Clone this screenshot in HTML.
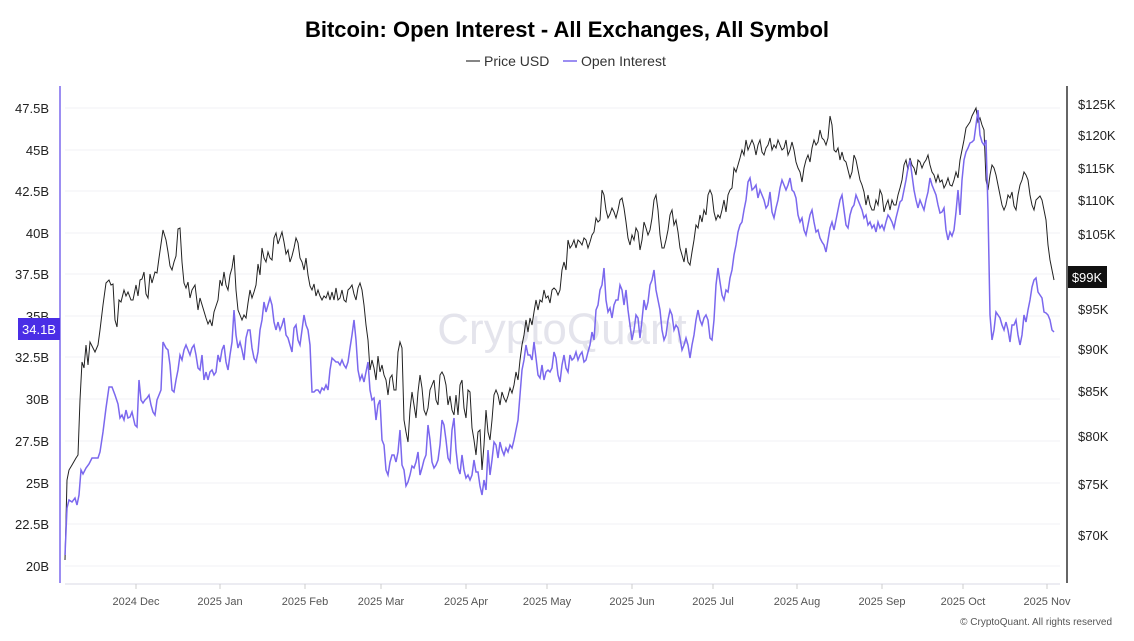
<!DOCTYPE html>
<html><head><meta charset="utf-8"><style>
body{margin:0;background:#fff;width:1134px;height:636px;overflow:hidden;font-family:"Liberation Sans",sans-serif}
</style></head><body>
<svg width="1134" height="636" viewBox="0 0 1134 636" xmlns="http://www.w3.org/2000/svg" font-family="Liberation Sans, sans-serif">
<text x="567" y="37" text-anchor="middle" font-size="22" font-weight="bold" fill="#000">Bitcoin: Open Interest - All Exchanges, All Symbol</text>
<line x1="466" y1="61" x2="480" y2="61" stroke="#333" stroke-width="1.2"/>
<text x="484" y="66" font-size="14" fill="#333">Price USD</text>
<line x1="563" y1="61" x2="577" y2="61" stroke="#7b68ee" stroke-width="1.5"/>
<text x="581" y="66" font-size="14" fill="#333">Open Interest</text>
<g stroke="#f2f2f4" stroke-width="1">
<line x1="65" x2="1060" y1="108" y2="108"/><line x1="65" x2="1060" y1="150" y2="150"/><line x1="65" x2="1060" y1="191" y2="191"/><line x1="65" x2="1060" y1="233" y2="233"/><line x1="65" x2="1060" y1="274" y2="274"/><line x1="65" x2="1060" y1="316" y2="316"/><line x1="65" x2="1060" y1="357" y2="357"/><line x1="65" x2="1060" y1="399" y2="399"/><line x1="65" x2="1060" y1="441" y2="441"/><line x1="65" x2="1060" y1="483" y2="483"/><line x1="65" x2="1060" y1="524" y2="524"/><line x1="65" x2="1060" y1="566" y2="566"/>
</g>
<line x1="60" y1="86" x2="60" y2="583" stroke="#7b68ee" stroke-width="1.5"/>
<line x1="1067" y1="86" x2="1067" y2="583" stroke="#000" stroke-width="1.2"/>
<line x1="65" y1="584" x2="1060" y2="584" stroke="#e6e6ee" stroke-width="1.5"/>
<g font-size="13" fill="#222" text-anchor="end">
<text x="49" y="113">47.5B</text><text x="49" y="155">45B</text><text x="49" y="196">42.5B</text><text x="49" y="238">40B</text><text x="49" y="279">37.5B</text><text x="49" y="321">35B</text><text x="49" y="362">32.5B</text><text x="49" y="404">30B</text><text x="49" y="446">27.5B</text><text x="49" y="488">25B</text><text x="49" y="529">22.5B</text><text x="49" y="571">20B</text>
</g>
<rect x="18" y="318" width="42" height="22" fill="#4a2ee6"/>
<text x="39" y="334" font-size="13" fill="#fff" text-anchor="middle">34.1B</text>
<g font-size="13" fill="#222">
<text x="1078" y="109">$125K</text><text x="1078" y="140">$120K</text><text x="1078" y="173">$115K</text><text x="1078" y="205">$110K</text><text x="1078" y="239">$105K</text><text x="1078" y="314">$95K</text><text x="1078" y="354">$90K</text><text x="1078" y="396">$85K</text><text x="1078" y="441">$80K</text><text x="1078" y="489">$75K</text><text x="1078" y="540">$70K</text>
</g>
<rect x="1068" y="266" width="39" height="22" fill="#111"/>
<text x="1087" y="282" font-size="13" fill="#fff" text-anchor="middle">$99K</text>
<g font-size="11" fill="#555" text-anchor="middle">
<text x="136" y="605">2024 Dec</text><text x="220" y="605">2025 Jan</text><text x="305" y="605">2025 Feb</text><text x="381" y="605">2025 Mar</text><text x="466" y="605">2025 Apr</text><text x="547" y="605">2025 May</text><text x="632" y="605">2025 Jun</text><text x="713" y="605">2025 Jul</text><text x="797" y="605">2025 Aug</text><text x="882" y="605">2025 Sep</text><text x="963" y="605">2025 Oct</text><text x="1047" y="605">2025 Nov</text>
</g>
<g stroke="#ccc" stroke-width="1"><line x1="136" y1="584" x2="136" y2="589"/><line x1="220" y1="584" x2="220" y2="589"/><line x1="305" y1="584" x2="305" y2="589"/><line x1="381" y1="584" x2="381" y2="589"/><line x1="466" y1="584" x2="466" y2="589"/><line x1="547" y1="584" x2="547" y2="589"/><line x1="632" y1="584" x2="632" y2="589"/><line x1="713" y1="584" x2="713" y2="589"/><line x1="797" y1="584" x2="797" y2="589"/><line x1="882" y1="584" x2="882" y2="589"/><line x1="963" y1="584" x2="963" y2="589"/><line x1="1047" y1="584" x2="1047" y2="589"/></g>
<text x="562" y="344" font-size="44" fill="#e4e4ec" text-anchor="middle">CryptoQuant</text>
<text x="1112" y="625" font-size="10" fill="#555" text-anchor="end">© CryptoQuant. All rights reserved</text>
<polyline fill="none" stroke="#222" stroke-width="1" points="65,560 67,480 69,470 72,465 76,458 78,455 80,400 82,362 84,368 86,345 88,365 90,342 93,348 95,352 98,345 100,330 103,305 106,283 109,280 111,285 113,284 115,320 117,327 119,300 121,302 124,290 126,296 128,292 131,300 133,300 136,285 138,296 140,280 142,279 144,272 146,294 148,298 150,274 152,283 155,272 157,273 159,258 161,244 163,230 166,240 168,252 170,266 172,270 174,262 176,256 178,229 180,228 182,262 184,283 186,288 188,282 190,298 192,290 195,285 198,310 200,298 203,308 206,318 208,324 210,320 212,326 214,312 216,306 218,300 220,280 222,286 224,272 226,285 228,290 230,275 232,268 234,255 236,290 238,310 240,315 242,320 244,315 246,318 248,303 250,290 252,298 254,292 256,285 258,264 260,275 262,248 264,258 266,262 268,252 270,258 272,260 274,238 276,233 278,244 280,238 282,232 284,242 286,254 288,250 290,262 292,256 294,248 296,238 298,243 300,258 302,262 304,270 306,258 308,275 310,286 312,290 314,284 316,296 318,290 320,296 322,300 324,296 326,298 328,292 330,300 332,292 334,300 336,288 338,300 340,298 342,290 344,300 346,302 348,290 350,288 352,285 354,294 356,300 358,288 360,283 362,290 364,305 366,325 368,340 370,370 372,360 374,368 376,380 378,356 380,372 382,365 384,375 386,380 388,395 390,378 392,375 394,390 396,390 398,352 400,342 402,348 404,420 406,432 408,442 410,410 412,392 414,405 416,418 418,392 420,375 422,388 424,410 426,415 428,408 430,390 432,385 434,380 436,400 438,405 440,375 442,372 444,376 446,385 448,405 450,396 452,410 454,415 456,395 458,415 460,385 462,380 464,408 466,418 468,390 470,392 472,428 474,440 476,455 478,432 480,430 482,470 484,445 486,410 488,432 490,440 492,420 494,395 496,390 498,395 500,405 502,392 504,398 506,402 508,396 510,388 512,393 514,385 516,372 518,380 520,360 522,345 524,335 526,320 528,332 530,318 532,325 534,312 536,300 538,310 540,300 542,302 544,290 546,298 548,296 550,303 552,290 554,288 556,290 558,295 560,290 562,270 564,262 566,270 568,240 570,248 572,245 574,240 576,248 578,240 580,242 582,245 584,238 586,240 588,248 590,242 592,235 594,232 596,218 598,222 600,220 602,190 604,195 606,210 608,218 610,214 612,208 614,212 616,218 618,210 620,200 622,198 624,208 626,222 628,238 630,245 632,235 634,240 636,228 638,232 640,250 642,240 644,222 646,228 648,235 650,230 652,218 654,200 656,195 658,210 660,235 662,248 664,248 666,240 668,230 670,215 672,210 674,225 676,220 678,232 680,248 682,255 684,262 686,248 688,262 690,265 692,252 694,240 696,225 698,228 700,215 702,222 704,210 706,215 708,195 710,190 712,195 714,212 716,220 718,215 720,218 722,210 724,200 726,212 728,195 730,190 732,188 734,168 736,172 738,165 740,158 742,150 744,155 746,140 748,150 750,145 752,140 754,145 756,155 758,145 760,140 762,152 764,155 766,148 768,145 770,138 772,150 774,145 776,148 778,140 780,145 782,150 784,148 786,140 788,155 790,150 792,142 794,150 796,162 798,168 800,172 802,182 804,168 806,160 808,155 810,162 812,148 814,140 816,145 818,142 820,130 822,138 824,140 826,145 828,138 830,116 832,125 834,150 836,152 838,148 840,160 842,152 844,160 846,162 848,170 850,178 852,172 854,155 856,160 858,170 860,180 862,185 864,192 866,205 868,195 870,205 872,210 874,210 876,200 878,205 880,190 882,195 884,212 886,205 888,200 890,210 892,200 894,205 896,205 898,195 900,188 902,180 904,165 906,160 908,170 910,158 912,165 914,168 916,175 918,160 920,162 922,168 924,163 926,160 928,155 930,165 932,172 934,175 936,182 938,175 940,182 942,180 944,188 946,184 948,178 950,185 952,186 954,180 956,172 958,178 960,160 962,150 964,140 966,128 968,125 970,122 972,116 974,112 976,108 978,122 980,118 982,125 984,130 986,180 988,190 990,175 992,165 994,168 996,175 998,185 1000,195 1002,205 1004,210 1006,205 1008,195 1010,198 1012,192 1014,206 1016,210 1018,195 1020,185 1022,180 1024,172 1026,175 1028,180 1030,195 1032,205 1034,210 1036,200 1038,198 1040,196 1042,200 1044,210 1046,220 1048,245 1050,260 1054,280"/>
<polyline fill="none" stroke="#7b68ee" stroke-width="1.5" points="65,555 67,508 69,500 72,502 75,498 77,505 79,495 81,470 83,474 86,468 89,464 92,458 95,458 98,458 100,452 103,432 106,408 109,387 112,387 115,395 118,404 120,418 122,415 124,420 126,410 128,418 130,417 132,412 135,425 137,427 139,380 141,400 143,403 145,400 147,398 149,395 151,405 153,412 155,415 157,400 159,395 161,390 163,342 166,348 168,350 170,365 172,390 174,392 176,380 178,370 180,355 182,360 184,350 186,345 188,350 190,355 192,348 194,345 196,355 198,368 200,370 202,355 204,380 206,372 208,380 210,372 212,370 214,375 216,372 218,355 220,362 222,350 224,345 226,362 228,370 230,355 232,342 234,310 236,335 238,348 240,342 242,350 244,360 246,338 248,330 250,330 252,348 254,358 256,362 258,352 260,330 262,320 264,302 266,312 268,305 270,298 272,305 274,322 276,330 278,322 280,330 282,325 284,318 286,335 288,338 290,345 292,352 294,328 296,325 298,340 300,345 302,330 304,315 306,325 308,330 310,345 312,392 314,392 316,390 318,390 320,393 322,388 324,390 326,385 328,390 330,370 332,358 334,360 336,362 338,362 340,365 342,360 344,365 346,368 348,362 350,348 352,335 354,320 356,340 358,370 360,380 362,375 364,382 366,372 368,362 370,390 372,400 374,398 376,420 378,405 380,400 382,440 384,445 386,470 388,475 390,462 392,455 394,455 396,462 398,452 400,430 402,465 404,470 406,486 408,482 410,475 412,466 414,468 416,462 418,452 420,475 422,468 424,460 426,455 428,425 430,440 432,462 434,468 436,465 438,460 440,445 442,420 444,425 446,440 448,458 450,462 452,430 454,418 456,450 458,468 460,474 462,455 464,470 466,478 468,475 470,480 472,475 474,460 476,472 478,472 480,486 482,495 484,480 486,490 488,450 490,475 492,460 494,442 496,445 498,458 500,442 502,450 504,455 506,448 508,452 510,445 512,448 514,440 516,430 518,420 520,395 522,370 524,360 526,345 528,355 530,355 532,360 534,342 536,358 538,375 540,378 542,365 544,380 546,372 548,370 550,372 552,368 554,352 556,358 558,375 560,382 562,365 564,355 566,368 568,372 570,355 572,360 574,358 576,352 578,360 580,355 582,352 584,362 586,360 588,352 590,345 592,332 594,340 596,310 598,305 600,290 602,285 604,268 606,300 608,312 610,308 612,318 614,305 616,300 618,300 620,285 622,290 624,305 626,290 628,310 630,325 632,340 634,330 636,315 638,318 640,338 642,320 644,300 646,310 648,302 650,285 652,280 654,270 656,290 658,300 660,310 662,330 664,340 666,335 668,320 670,310 672,315 674,330 676,325 678,328 680,338 682,350 684,345 686,338 688,345 690,358 692,345 694,335 696,320 698,310 700,320 702,325 704,318 706,315 708,320 710,338 712,340 714,320 716,285 718,268 720,282 722,295 724,300 726,290 728,292 730,278 732,270 734,255 736,245 738,232 740,225 742,222 744,210 746,200 748,182 750,178 752,190 754,188 756,185 758,198 760,190 762,195 764,200 766,208 768,205 770,192 772,212 774,218 776,208 778,200 780,188 782,180 784,185 786,190 788,185 790,178 792,190 794,192 796,198 798,215 800,222 802,218 804,230 806,235 808,225 810,215 812,210 814,222 816,232 818,230 820,238 822,242 824,245 826,252 828,240 830,228 832,222 834,230 836,220 838,210 840,200 842,195 844,210 846,225 848,228 850,215 852,208 854,205 856,195 858,200 860,205 862,210 864,218 866,215 868,225 870,222 872,228 874,225 876,232 878,222 880,228 882,225 884,230 886,222 888,215 890,218 892,222 894,228 896,218 898,210 900,202 902,200 904,190 906,180 908,168 910,160 912,175 914,190 916,200 918,208 920,200 922,205 924,210 926,200 928,192 930,178 932,185 934,190 936,195 938,205 940,213 942,212 944,208 946,230 948,240 950,232 952,236 954,230 956,212 958,190 960,215 962,180 964,160 966,152 968,148 970,143 972,142 974,140 976,125 978,110 980,135 982,142 984,145 986,140 988,210 990,315 992,340 994,330 996,312 998,315 1000,318 1002,325 1004,330 1006,322 1008,330 1010,342 1012,325 1014,325 1016,320 1018,335 1020,345 1022,335 1024,315 1026,322 1028,310 1030,300 1032,287 1034,280 1036,278 1038,292 1040,295 1042,298 1044,312 1046,313 1048,315 1050,320 1052,330 1054,332"/>
</svg>
</body></html>
